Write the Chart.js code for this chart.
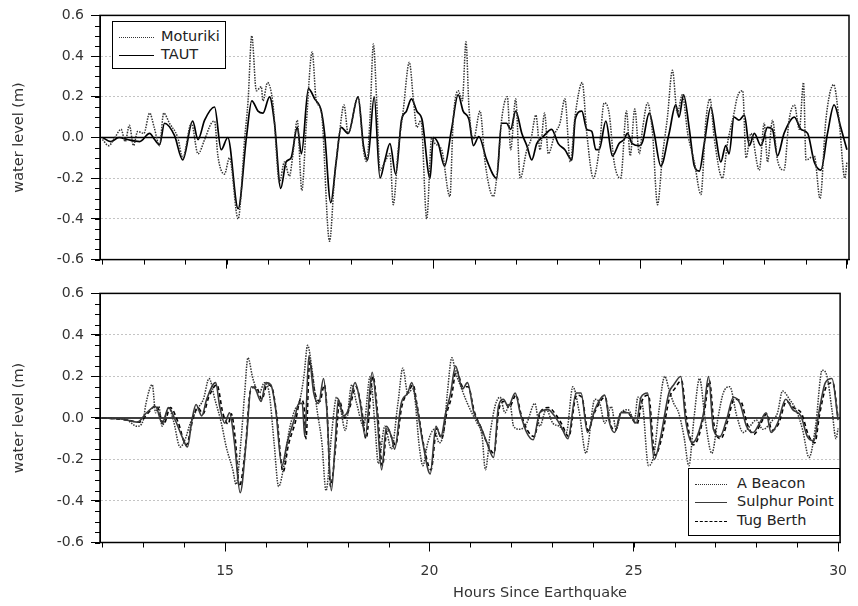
<!DOCTYPE html>
<html>
<head>
<meta charset="utf-8">
<script src="https://cdn.jsdelivr.net/npm/chart.js@4"></script>
<style>
  body { margin: 0; background: #fff; font-family: "DejaVu Sans", sans-serif; }
  #wrap { position: relative; width: 858px; height: 606px; }
  canvas { position: absolute; left: 0; }
  .legend { position: absolute; border: 1.5px solid #000; background: #fff; box-sizing: border-box; }
  .row { position: absolute; font-size: 14.5px; line-height: 17px; color: #222; white-space: nowrap; }
  .sample { position: absolute; height: 0; }
  #xtitle { position: absolute; top: 584px; left: 540px; transform: translateX(-50%); font-size: 14.5px; line-height: 17px; color: #333; white-space: nowrap; }
</style>
</head>
<body>
<div id="wrap">
  <canvas id="topChart" width="858" height="275" style="top:0"></canvas>
  <canvas id="bottomChart" width="858" height="328" style="top:278px"></canvas>

  <div class="legend" style="left:112px; top:21px; width:114px; height:48px;">
    <div class="sample" style="left:6px; top:15px; width:35px; border-top:1.5px dotted #333;"></div>
    <div class="row" style="left:48px; top:6px;">Moturiki</div>
    <div class="sample" style="left:6px; top:33px; width:35px; border-top:1.6px solid #000;"></div>
    <div class="row" style="left:48px; top:24px;">TAUT</div>
  </div>

  <div class="legend" style="left:688px; top:468px; width:152px; height:68px;">
    <div class="sample" style="left:6px; top:15px; width:32px; border-top:1.5px dotted #333;"></div>
    <div class="row" style="left:48px; top:6px;">A Beacon</div>
    <div class="sample" style="left:6px; top:33px; width:32px; border-top:1.6px solid #3a3a3a;"></div>
    <div class="row" style="left:48px; top:24px;">Sulphur Point</div>
    <div class="sample" style="left:6px; top:52px; width:32px; border-top:1.5px dashed #000;"></div>
    <div class="row" style="left:48px; top:43px;">Tug Berth</div>
  </div>

  <div id="xtitle">Hours Since Earthquake</div>
</div>

<script>
// ---- datos (horas desde el terremoto, nivel en m) ----
const motuHours = [12.0,12.15,12.3,12.45,12.55,12.65,12.75,12.85,13.0,13.14,13.25,13.38,13.48,13.62,13.82,13.94,14.15,14.31,14.47,14.63,14.71,14.79,14.95,15.07,15.28,15.44,15.52,15.61,15.72,15.84,15.88,15.99,16.12,16.28,16.40,16.52,16.6,16.71,16.82,16.93,17.07,17.17,17.29,17.49,17.61,17.73,17.84,17.94,18.18,18.31,18.39,18.47,18.55,18.63,18.71,18.83,18.95,19.03,19.15,19.27,19.42,19.52,19.6,19.70,19.84,19.96,20.04,20.2,20.40,20.48,20.6,20.7,20.79,20.86,20.97,21.13,21.25,21.45,21.57,21.65,21.79,21.87,21.99,22.1,22.26,22.36,22.48,22.58,22.69,22.78,22.94,23.06,23.18,23.31,23.43,23.6,23.71,23.87,24.01,24.13,24.25,24.37,24.53,24.67,24.76,24.87,24.98,25.06,25.18,25.3,25.42,25.54,25.66,25.78,25.9,26.02,26.15,26.31,26.47,26.59,26.69,26.79,26.99,27.11,27.27,27.35,27.48,27.56,27.68,27.88,28.0,28.08,28.2,28.32,28.48,28.6,28.73,28.85,28.95,29.01,29.21,29.35,29.49,29.68,29.81,29.95,30.0];
const motuLevel = [-0.01,-0.04,0.0,0.04,-0.02,0.06,-0.04,0.03,0.02,0.12,0.05,-0.04,0.12,0.07,0.0,-0.1,0.07,-0.08,-0.01,0.07,0.08,-0.09,-0.18,-0.1,-0.40,0.0,0.18,0.50,0.23,0.25,0.18,0.27,0.17,-0.22,-0.12,-0.19,-0.09,0.085,-0.26,0.07,0.42,0.18,0.13,-0.51,-0.2,0.02,0.16,0.02,0.2,-0.06,-0.12,0.1,0.46,0.18,-0.16,-0.12,-0.08,-0.33,-0.06,0.13,0.37,0.18,0.05,0.085,-0.40,0.0,-0.03,-0.06,-0.29,0.085,0.23,0.18,0.47,0.15,-0.01,0.13,-0.12,-0.29,-0.12,0.085,0.2,-0.06,0.19,-0.2,-0.06,-0.01,0.11,-0.06,0.12,-0.08,0.02,0.07,0.19,-0.12,0.11,0.27,0.02,-0.2,-0.06,0.17,0.12,-0.12,-0.2,0.13,-0.09,0.14,-0.08,0.045,0.17,0.02,-0.33,-0.09,0.1,0.33,0.12,0.21,0.02,-0.12,-0.28,0.085,0.19,0.0,-0.2,-0.03,0.12,0.2,0.23,-0.1,0.02,-0.16,0.07,-0.12,0.085,-0.11,-0.16,0.085,0.16,0.04,0.27,-0.11,-0.09,-0.3,0.085,0.26,0.085,-0.2,-0.12];

const tautHours = [12.0,12.2,12.4,12.6,12.9,13.14,13.26,13.38,13.5,13.74,13.94,14.18,14.31,14.47,14.71,14.87,15.03,15.28,15.48,15.61,15.76,15.88,16.04,16.16,16.31,16.44,16.56,16.71,16.81,16.98,17.13,17.29,17.37,17.52,17.65,17.77,17.94,18.18,18.31,18.41,18.57,18.71,18.83,18.95,19.09,19.23,19.35,19.47,19.6,19.73,19.92,20.0,20.12,20.27,20.44,20.6,20.72,20.86,20.97,21.1,21.29,21.53,21.65,21.77,21.87,21.99,22.14,22.26,22.38,22.5,22.66,22.86,23.02,23.18,23.35,23.43,23.59,23.71,23.83,23.93,24.01,24.17,24.33,24.49,24.61,24.69,24.81,24.99,25.06,25.22,25.34,25.5,25.7,25.86,25.94,26.05,26.19,26.31,26.43,26.55,26.71,26.83,26.95,27.07,27.15,27.27,27.39,27.52,27.64,27.76,27.92,28.08,28.2,28.32,28.48,28.73,28.89,29.05,29.21,29.37,29.53,29.69,29.85,30.0];
const tautLevel = [0.0,-0.02,0.0,-0.01,-0.02,0.02,-0.01,-0.035,0.07,0.01,-0.11,0.08,-0.01,0.085,0.15,-0.06,0.0,-0.35,0.0,0.18,0.13,0.12,0.2,0.07,-0.25,-0.12,-0.1,0.05,-0.08,0.24,0.19,0.13,0.02,-0.32,-0.12,0.05,0.02,0.2,-0.04,-0.11,0.2,-0.2,-0.11,-0.03,-0.18,0.085,0.13,0.19,0.13,0.085,-0.2,0.0,-0.03,-0.14,0.04,0.21,0.13,0.09,-0.04,0.005,-0.11,-0.2,0.07,0.07,0.04,0.13,0.02,-0.04,-0.11,-0.03,0.005,0.04,-0.03,-0.06,-0.11,0.09,0.13,0.04,0.03,-0.06,-0.06,0.08,-0.09,-0.03,-0.01,0.02,-0.03,-0.04,-0.02,0.12,0.02,-0.14,0.02,0.16,0.1,0.21,0.04,-0.14,-0.165,-0.03,0.15,0.005,-0.12,-0.04,-0.08,0.1,0.085,0.11,-0.04,0.02,-0.04,0.05,0.04,-0.09,0.02,0.1,0.04,0.02,-0.12,-0.16,0.02,0.16,0.05,-0.06];

const beaconHours = [12.0,12.4,12.6,12.85,13.0,13.06,13.22,13.3,13.38,13.46,13.62,13.74,13.9,14.02,14.15,14.31,14.47,14.61,14.75,14.91,15.03,15.19,15.27,15.39,15.48,15.56,15.68,15.84,15.96,16.08,16.2,16.31,16.44,16.56,16.71,16.81,16.93,17.02,17.13,17.25,17.37,17.47,17.61,17.73,17.83,17.94,18.1,18.22,18.39,18.55,18.67,18.75,18.91,19.07,19.23,19.35,19.47,19.6,19.76,19.84,19.96,20.12,20.24,20.36,20.44,20.55,20.64,20.77,20.93,21.05,21.17,21.29,21.37,21.49,21.61,21.73,21.85,21.97,22.06,22.22,22.38,22.58,22.7,22.86,23.02,23.18,23.35,23.51,23.67,23.83,24.05,24.17,24.29,24.45,24.57,24.69,24.86,25.02,25.1,25.22,25.36,25.5,25.62,25.76,25.86,25.98,26.1,26.23,26.35,26.47,26.61,26.75,26.91,27.07,27.19,27.35,27.52,27.68,27.84,28.0,28.16,28.4,28.52,28.64,28.81,28.97,29.13,29.29,29.45,29.61,29.73,29.85,29.95,30.0];
const beaconLevel = [0.0,-0.005,-0.01,-0.04,-0.01,0.065,0.16,0.025,0.055,-0.04,0.05,-0.015,-0.14,-0.105,-0.025,0.04,0.09,0.19,0.09,-0.025,-0.14,-0.25,-0.32,-0.11,0.12,0.29,0.19,0.12,0.17,0.12,-0.12,-0.33,-0.23,-0.07,0.04,0.07,0.2,0.35,0.23,0.04,-0.12,-0.35,-0.07,0.1,0.04,-0.06,0.16,0.07,-0.04,0.2,-0.04,-0.22,-0.04,-0.15,0.07,0.24,0.12,0.14,-0.15,-0.23,-0.12,-0.055,-0.12,-0.055,0.12,0.29,0.22,0.15,0.07,0.02,-0.025,-0.09,-0.25,-0.07,0.06,0.1,0.025,0.07,-0.04,-0.055,-0.025,0.07,-0.04,0.04,-0.025,-0.04,-0.07,0.15,0.025,-0.17,0.09,0.07,-0.025,0.055,-0.055,0.025,0.04,-0.01,0.1,0.055,-0.23,-0.17,0.04,0.2,0.14,0.07,0.025,-0.09,-0.23,-0.01,0.19,-0.01,-0.17,0.01,0.12,0.15,0.01,-0.07,-0.04,-0.01,-0.055,-0.01,0.025,0.13,0.09,0.04,-0.055,-0.19,-0.04,0.23,0.2,0.04,-0.1,-0.05];

const sulphurHours = [12.0,12.5,12.85,13.08,13.3,13.46,13.62,13.78,13.97,14.08,14.19,14.29,14.43,14.55,14.77,14.87,14.99,15.11,15.23,15.37,15.52,15.64,15.74,15.88,16.0,16.12,16.24,16.39,16.52,16.69,16.81,16.89,16.95,17.05,17.17,17.29,17.41,17.49,17.6,17.69,17.77,17.9,18.02,18.18,18.31,18.43,18.6,18.71,18.83,18.95,19.07,19.15,19.31,19.47,19.57,19.68,19.84,20.02,20.16,20.28,20.4,20.52,20.64,20.81,20.93,21.09,21.25,21.41,21.57,21.69,21.81,21.93,22.1,22.22,22.38,22.54,22.7,22.9,23.06,23.22,23.39,23.59,23.71,23.87,24.05,24.29,24.41,24.53,24.69,24.86,25.06,25.18,25.34,25.5,25.66,25.86,25.98,26.15,26.27,26.43,26.55,26.71,26.83,26.95,27.11,27.27,27.44,27.6,27.76,27.92,28.08,28.24,28.36,28.52,28.72,28.89,29.09,29.25,29.41,29.53,29.69,29.85,30.0];
const sulphurLevel = [0.0,-0.005,-0.02,0.025,0.055,-0.025,0.05,-0.01,-0.1,-0.14,-0.01,0.065,0.01,0.09,0.17,0.055,-0.025,0.025,-0.12,-0.36,-0.11,0.15,0.14,0.08,0.17,0.16,0.04,-0.23,-0.12,-0.01,0.07,0.07,-0.09,0.3,0.12,0.07,0.19,0.04,-0.35,-0.14,0.09,0.01,0.04,0.17,0.07,-0.09,0.22,0.04,-0.25,-0.04,-0.09,-0.15,0.07,0.12,0.17,0.07,-0.12,-0.27,-0.04,-0.09,0.025,0.12,0.25,0.14,0.17,0.025,-0.04,-0.12,-0.19,0.055,0.09,0.055,0.12,0.025,-0.07,-0.105,0.025,0.04,0.01,-0.04,-0.1,0.12,0.12,-0.07,0.04,0.11,-0.025,-0.07,0.025,0.025,-0.025,0.1,0.12,-0.2,-0.09,0.12,0.16,0.2,-0.01,-0.12,-0.09,0.025,0.2,-0.055,-0.09,-0.01,0.1,0.07,-0.04,-0.07,-0.025,0.025,-0.07,-0.025,0.09,0.04,0.01,-0.09,-0.11,0.025,0.17,0.19,-0.01];

const tugHours = [12.0,12.6,12.9,13.1,13.32,13.5,13.66,13.85,14.05,14.22,14.33,14.46,14.6,14.8,14.95,15.08,15.15,15.25,15.35,15.5,15.62,15.76,15.9,16.03,16.14,16.26,16.42,16.55,16.72,16.85,16.93,16.98,17.07,17.2,17.32,17.43,17.5,17.58,17.7,17.8,17.93,18.05,18.2,18.33,18.45,18.62,18.73,18.85,18.97,19.09,19.17,19.33,19.5,19.6,19.7,19.86,20.04,20.18,20.3,20.42,20.54,20.66,20.82,20.95,21.1,21.27,21.43,21.58,21.7,21.83,21.95,22.12,22.24,22.4,22.56,22.72,22.92,23.08,23.24,23.41,23.6,23.73,23.88,24.05,24.3,24.43,24.55,24.7,24.88,25.08,25.2,25.36,25.52,25.68,25.88,26.0,26.17,26.29,26.45,26.57,26.73,26.85,26.97,27.13,27.29,27.46,27.62,27.78,27.94,28.1,28.26,28.38,28.54,28.74,28.91,29.11,29.27,29.43,29.55,29.71,29.87,30.0];
const tugLevel = [0.0,-0.01,-0.02,0.02,0.06,-0.03,0.05,-0.02,-0.13,0.0,0.05,0.02,0.1,0.16,0.02,-0.03,0.02,-0.1,-0.33,-0.14,0.13,0.15,0.09,0.16,0.15,0.02,-0.26,-0.13,-0.02,0.09,0.06,-0.1,0.27,0.12,0.08,0.16,0.02,-0.33,-0.15,0.08,0.0,0.05,0.15,0.06,-0.1,0.2,0.03,-0.23,-0.05,-0.1,-0.13,0.06,0.13,0.16,0.06,-0.13,-0.25,-0.05,-0.1,0.02,0.1,0.23,0.15,0.15,0.03,-0.05,-0.13,-0.17,0.04,0.08,0.05,0.11,0.02,-0.06,-0.09,0.03,0.05,0.02,-0.03,-0.09,0.11,0.1,-0.06,0.03,0.1,-0.03,-0.06,0.03,0.02,-0.03,0.08,0.11,-0.18,-0.1,0.1,0.14,0.18,0.0,-0.13,-0.1,0.03,0.18,-0.04,-0.1,-0.02,0.09,0.08,-0.03,-0.08,-0.03,0.02,-0.06,-0.03,0.08,0.05,0.02,-0.08,-0.12,0.02,0.15,0.17,0.0];

const yMajorTicks = [-0.6, -0.4, -0.2, 0.0, 0.2, 0.4, 0.6];
const xMajorTicks = [15, 20, 25, 30];

const toPoints = (hours, level) => hours.map((h, i) => ({ x: h, y: level[i] }));

// marco, línea del cero y marcas menores
const frameTicks = {
  id: 'frameTicks',
  beforeDatasetsDraw(chart) {
    const { ctx, chartArea: a, scales: { y } } = chart;
    const y0 = y.getPixelForValue(0);
    ctx.save();
    ctx.strokeStyle = '#000';
    ctx.lineWidth = 1.6;
    ctx.beginPath();
    ctx.moveTo(a.left, y0);
    ctx.lineTo(a.right, y0);
    ctx.stroke();
    ctx.restore();
  },
  afterDraw(chart) {
    const { ctx, chartArea: a, scales: { x, y } } = chart;
    ctx.save();
    ctx.strokeStyle = '#000';
    ctx.lineWidth = 1;
    ctx.beginPath();
    for (let v = -0.6; v <= 0.601; v += 0.05) {
      const py = Math.round(y.getPixelForValue(v)) + 0.5;
      ctx.moveTo(a.left - 5, py);
      ctx.lineTo(a.left, py);
    }
    for (let h = 12; h <= 30; h++) {
      const px = Math.round(x.getPixelForValue(h)) + 0.5;
      ctx.moveTo(px, a.bottom);
      ctx.lineTo(px, a.bottom + 5);
    }
    ctx.stroke();
    ctx.lineWidth = 1.5;
    ctx.strokeRect(a.left, a.top, a.right - a.left, a.bottom - a.top);
    ctx.restore();
  }
};

function makeOptions(showXLabels, xHeight) {
  return {
    responsive: false,
    animation: false,
    layout: { padding: { top: 15, right: 9, left: 0, bottom: 0 } },
    plugins: { legend: { display: false }, tooltip: { enabled: false } },
    elements: { point: { radius: 0 }, line: { cubicInterpolationMode: 'monotone' } },
    scales: {
      x: {
        type: 'linear',
        min: 11.94,
        max: 30.05,
        afterBuildTicks: s => { s.ticks = xMajorTicks.map(v => ({ value: v })); },
        afterFit: s => { s.height = xHeight; },
        ticks: {
          display: showXLabels,
          padding: 11,
          color: '#333',
          font: { family: 'DejaVu Sans', size: 14 }
        },
        grid: { drawOnChartArea: false, tickLength: 9, tickColor: '#000' },
        border: { color: '#000', width: 1 }
      },
      y: {
        min: -0.6,
        max: 0.6,
        afterBuildTicks: s => { s.ticks = yMajorTicks.map(v => ({ value: v })); },
        afterFit: s => { s.width = 100; },
        ticks: {
          padding: 7,
          color: '#333',
          font: { family: 'DejaVu Sans', size: 14 },
          callback: v => v.toFixed(1)
        },
        grid: {
          tickLength: 9,
          tickColor: '#000',
          color: c => (Math.abs(c.tick.value) < 0.01 || Math.abs(c.tick.value) > 0.59) ? 'rgba(0,0,0,0)' : '#c4c4c4',
          lineWidth: 1
        },
        border: { color: '#000', width: 1, dash: [2, 2] },
        title: {
          display: true,
          text: 'water level (m)',
          color: '#333',
          font: { family: 'DejaVu Sans', size: 14.5 },
          padding: { top: 11 }
        }
      }
    }
  };
}

new Chart(document.getElementById('topChart'), {
  type: 'line',
  data: {
    datasets: [
      { label: 'Moturiki', data: toPoints(motuHours, motuLevel), borderColor: '#333', borderWidth: 1.5, borderDash: [1.5, 1.2] },
      { label: 'TAUT', data: toPoints(tautHours, tautLevel), borderColor: '#000', borderWidth: 1.7 }
    ]
  },
  options: makeOptions(false, 11),
  plugins: [frameTicks]
});

new Chart(document.getElementById('bottomChart'), {
  type: 'line',
  data: {
    datasets: [
      { label: 'A Beacon', data: toPoints(beaconHours, beaconLevel), borderColor: '#333', borderWidth: 1.5, borderDash: [1.5, 1.2] },
      { label: 'Sulphur Point', data: toPoints(sulphurHours, sulphurLevel), borderColor: '#3a3a3a', borderWidth: 1.6 },
      { label: 'Tug Berth', data: toPoints(tugHours, tugLevel), borderColor: '#000', borderWidth: 1.6, borderDash: [4, 3] }
    ]
  },
  options: makeOptions(true, 63.5),
  plugins: [frameTicks]
});
</script>
</body>
</html>
